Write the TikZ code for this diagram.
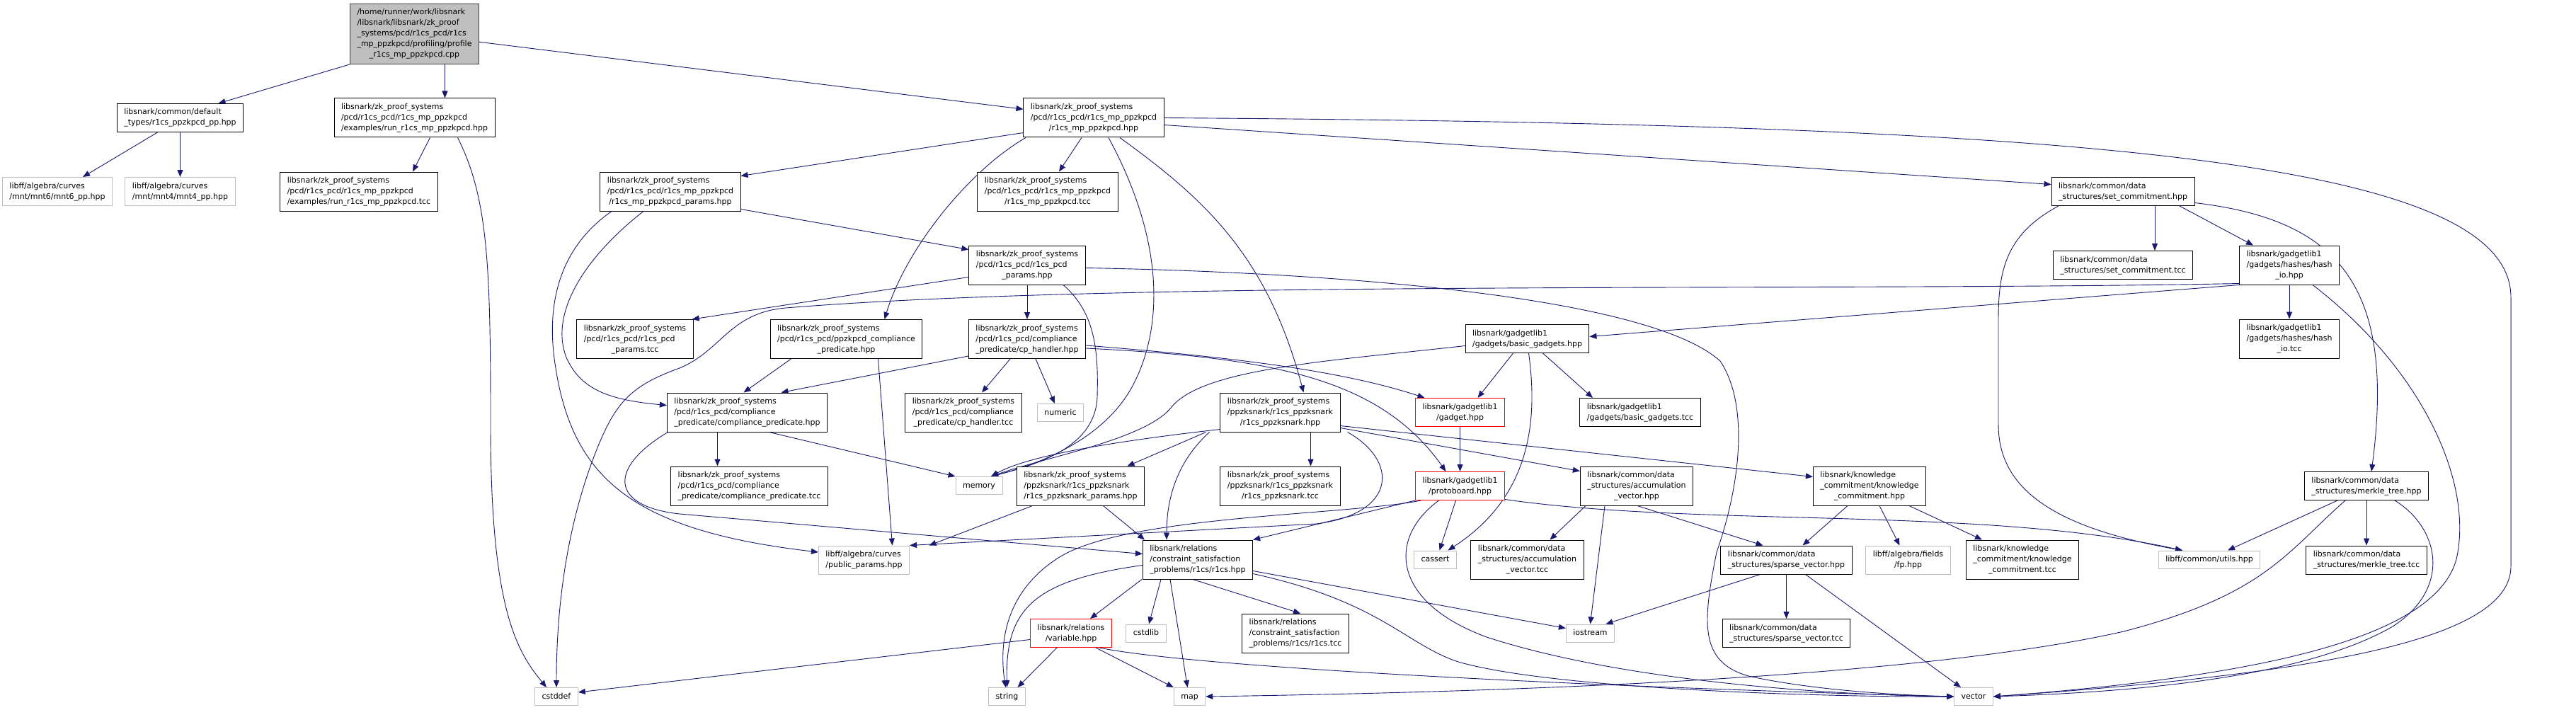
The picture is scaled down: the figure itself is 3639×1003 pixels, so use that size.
\documentclass[tikz,border=0pt]{standalone}
\usepackage{fontspec}
\setmainfont{DejaVu Sans}
\usetikzlibrary{arrows.meta,backgrounds}
\definecolor{dxEdge}{HTML}{191970}
\definecolor{dxGray}{HTML}{BFBFBF}
\definecolor{dxDark}{HTML}{404040}
\newcommand{\fpath}[2]{\begin{tabular}{@{}l@{}}#1\\\multicolumn{1}{@{}c@{}}{#2}\end{tabular}}
\newcommand{\fsys}[1]{\begin{tabular}{@{}c@{}}#1\end{tabular}}

\begin{document}
\begin{tikzpicture}[x=1pt,y=-1pt,
  file/.style={draw=black, fill=white, line width=1pt, inner xsep=10pt, inner ysep=5pt,
    font=\fontsize{11}{15}\selectfont},
  sysfile/.style={file, draw=dxGray},
  cutfile/.style={file, draw=red},
  rootfile/.style={file, draw=dxDark, fill=dxGray},
  dep/.style={draw=dxEdge, line width=0.9pt, -{Triangle[length=10pt,width=8pt]}}]
  \useasboundingbox (0,0) rectangle (3639,1003);

  \node[rootfile] (root) at (585.5,48)
    {\fpath{/home/runner/work/libsnark\\/libsnark/libsnark/zk\_proof\\\_systems/pcd/r1cs\_pcd/r1cs\\\_mp\_ppzkpcd/profiling/profile}{\_r1cs\_mp\_ppzkpcd.cpp}};

  \node[file] (deftypes) at (254.5,166.5) {\fpath{libsnark/common/default}{\_types/r1cs\_ppzkpcd\_pp.hpp}};
  \node[file] (runhpp) at (585.5,166.5) {\fpath{libsnark/zk\_proof\_systems\\/pcd/r1cs\_pcd/r1cs\_mp\_ppzkpcd}{/examples/run\_r1cs\_mp\_ppzkpcd.hpp}};
  \node[file] (mphpp) at (1545,166.5) {\fpath{libsnark/zk\_proof\_systems\\/pcd/r1cs\_pcd/r1cs\_mp\_ppzkpcd}{/r1cs\_mp\_ppzkpcd.hpp}};

  \node[sysfile] (mnt6) at (81,270.5) {\fpath{libff/algebra/curves}{/mnt/mnt6/mnt6\_pp.hpp}};
  \node[sysfile] (mnt4) at (254.5,270.5) {\fpath{libff/algebra/curves}{/mnt/mnt4/mnt4\_pp.hpp}};
  \node[file] (runtcc) at (507,270.5) {\fpath{libsnark/zk\_proof\_systems\\/pcd/r1cs\_pcd/r1cs\_mp\_ppzkpcd}{/examples/run\_r1cs\_mp\_ppzkpcd.tcc}};
  \node[file] (mpparams) at (947,270.5) {\fpath{libsnark/zk\_proof\_systems\\/pcd/r1cs\_pcd/r1cs\_mp\_ppzkpcd}{/r1cs\_mp\_ppzkpcd\_params.hpp}};
  \node[file] (mptcc) at (1480,270.5) {\fpath{libsnark/zk\_proof\_systems\\/pcd/r1cs\_pcd/r1cs\_mp\_ppzkpcd}{/r1cs\_mp\_ppzkpcd.tcc}};
  \node[file] (setcomm) at (2999,270.5) {\fpath{libsnark/common/data}{\_structures/set\_commitment.hpp}};

  \node[file] (pcdparams) at (1451,374.5) {\fpath{libsnark/zk\_proof\_systems\\/pcd/r1cs\_pcd/r1cs\_pcd}{\_params.hpp}};
  \node[file] (setcommtcc) at (2999,374.5) {\fpath{libsnark/common/data}{\_structures/set\_commitment.tcc}};
  \node[file] (hashio) at (3234,374.5) {\fpath{libsnark/gadgetlib1\\/gadgets/hashes/hash}{\_io.hpp}};

  \node[file] (pcdparamstcc) at (897,479) {\fpath{libsnark/zk\_proof\_systems\\/pcd/r1cs\_pcd/r1cs\_pcd}{\_params.tcc}};
  \node[file] (ppzkcp) at (1195.5,479) {\fpath{libsnark/zk\_proof\_systems\\/pcd/r1cs\_pcd/ppzkpcd\_compliance}{\_predicate.hpp}};
  \node[file] (cphandler) at (1451,479) {\fpath{libsnark/zk\_proof\_systems\\/pcd/r1cs\_pcd/compliance}{\_predicate/cp\_handler.hpp}};
  \node[file] (basicgadgets) at (2157.5,478.5) {\fpath{libsnark/gadgetlib1}{/gadgets/basic\_gadgets.hpp}};
  \node[file] (hashiotcc) at (3234,478.5) {\fpath{libsnark/gadgetlib1\\/gadgets/hashes/hash}{\_io.tcc}};

  \node[file] (cphpp) at (1055.5,582.5) {\fpath{libsnark/zk\_proof\_systems\\/pcd/r1cs\_pcd/compliance}{\_predicate/compliance\_predicate.hpp}};
  \node[file] (cphtcc) at (1361,582.5) {\fpath{libsnark/zk\_proof\_systems\\/pcd/r1cs\_pcd/compliance}{\_predicate/cp\_handler.tcc}};
  \node[sysfile] (numeric) at (1498,583) {\fsys{numeric}};
  \node[file] (snarkhpp) at (1808.5,582.5) {\fpath{libsnark/zk\_proof\_systems\\/ppzksnark/r1cs\_ppzksnark}{/r1cs\_ppzksnark.hpp}};
  \node[cutfile] (gadget) at (2062.5,582.5) {\fpath{libsnark/gadgetlib1}{/gadget.hpp}};
  \node[file] (basictcc) at (2317,582.5) {\fpath{libsnark/gadgetlib1}{/gadgets/basic\_gadgets.tcc}};

  \node[file] (cptcc) at (1058.5,686.5) {\fpath{libsnark/zk\_proof\_systems\\/pcd/r1cs\_pcd/compliance}{\_predicate/compliance\_predicate.tcc}};
  \node[sysfile] (memory) at (1383,686) {\fsys{memory}};
  \node[file] (snarkparams) at (1526.5,686.5) {\fpath{libsnark/zk\_proof\_systems\\/ppzksnark/r1cs\_ppzksnark}{/r1cs\_ppzksnark\_params.hpp}};
  \node[file] (snarktcc) at (1808.5,686.5) {\fpath{libsnark/zk\_proof\_systems\\/ppzksnark/r1cs\_ppzksnark}{/r1cs\_ppzksnark.tcc}};
  \node[cutfile] (protoboard) at (2062.5,686.5) {\fpath{libsnark/gadgetlib1}{/protoboard.hpp}};
  \node[file] (accvec) at (2312,686.5) {\fpath{libsnark/common/data\\\_structures/accumulation}{\_vector.hpp}};
  \node[file] (kchpp) at (2641,686.5) {\fpath{libsnark/knowledge\\\_commitment/knowledge}{\_commitment.hpp}};
  \node[file] (merkle) at (3343,686.5) {\fpath{libsnark/common/data}{\_structures/merkle\_tree.hpp}};

  \node[sysfile] (publicparams) at (1220.5,791) {\fpath{libff/algebra/curves}{/public\_params.hpp}};
  \node[file] (r1cshpp) at (1692,790.5) {\fpath{libsnark/relations\\/constraint\_satisfaction}{\_problems/r1cs/r1cs.hpp}};
  \node[sysfile] (cassert) at (2027.5,790.5) {\fsys{cassert}};
  \node[file] (accvectcc) at (2157.5,790.5) {\fpath{libsnark/common/data\\\_structures/accumulation}{\_vector.tcc}};
  \node[file] (sparse) at (2523.5,791) {\fpath{libsnark/common/data}{\_structures/sparse\_vector.hpp}};
  \node[sysfile] (fp) at (2695.5,791) {\fpath{libff/algebra/fields}{/fp.hpp}};
  \node[file] (kctcc) at (2857,790.5) {\fpath{libsnark/knowledge\\\_commitment/knowledge}{\_commitment.tcc}};
  \node[sysfile] (utils) at (3121,790.5) {\fsys{libff/common/utils.hpp}};
  \node[file] (merkletcc) at (3343,791) {\fpath{libsnark/common/data}{\_structures/merkle\_tree.tcc}};

  \node[cutfile] (variable) at (1513,894.5) {\fpath{libsnark/relations}{/variable.hpp}};
  \node[sysfile] (cstdlib) at (1619,894.5) {\fsys{cstdlib}};
  \node[file] (r1cstcc) at (1830,894.5) {\fpath{libsnark/relations\\/constraint\_satisfaction}{\_problems/r1cs/r1cs.tcc}};
  \node[sysfile] (iostream) at (2246.5,894.5) {\fsys{iostream}};
  \node[file] (sparsetcc) at (2523.5,894.5) {\fpath{libsnark/common/data}{\_structures/sparse\_vector.tcc}};

  \node[sysfile] (cstddef) at (786,984) {\fsys{cstddef}};
  \node[sysfile] (string) at (1422.5,984) {\fsys{string}};
  \node[sysfile] (map) at (1680.5,984) {\fsys{map}};
  \node[sysfile] (vector) at (2788,984) {\fsys{vector}};

  \begin{scope}[on background layer]
  \draw[dep] (root.south west) -- ([xshift=54]deftypes.north);
  \draw[dep] ([xshift=43]root.south) -- ([xshift=43]runhpp.north);
  \draw[dep] (root) -- (mphpp);
  \draw[dep] ([xshift=-32]deftypes.south) -- ([xshift=36]mnt6.north);
  \draw[dep] (deftypes) -- (mnt4);
  \draw[dep] ([xshift=22]runhpp.south) -- ([xshift=76]runtcc.north);
  \draw[dep] ([xshift=61]runhpp.south) .. controls (690,280) and (693,380) .. (693,600)
    .. controls (693,860) and (730,920) .. ([xshift=-14]cstddef.north);

  \draw[dep] ([yshift=-21]mphpp.west) -- ([yshift=22]mpparams.east);
  \draw[dep] ([xshift=-17]mphpp.south) -- ([xshift=16]mptcc.north);
  \draw[dep] ([yshift=-10]mphpp.east) -- ([yshift=10]setcomm.west);
  \draw[dep] (mphpp.east) .. controls (2900,175) and (3547,220) .. (3547,420) -- (3547,800)
    .. controls (3547,900) and (3300,950) .. (vector.east);
  \draw[dep] ([xshift=-96]mphpp.south) .. controls (1370,240) and (1280,350) .. ([xshift=54]ppzkcp.north);
  \draw[dep] ([xshift=21]mphpp.south) .. controls (1650,350) and (1640,470) .. (1600,545)
    .. controls (1560,620) and (1470,655) .. ([xshift=17]memory.north);
  \draw[dep] ([xshift=37]mphpp.south) .. controls (1700,280) and (1790,360) .. ([xshift=33]snarkhpp.north);

  \draw[dep] ([yshift=-25]mpparams.east) -- ([yshift=22]pcdparams.west);
  \draw[dep] ([xshift=-38]mpparams.south) .. controls (830,360) and (775,440) .. (800,505)
    .. controls (820,550) and (860,565) .. ([yshift=10]cphpp.west);
  \draw[dep] ([xshift=-83]mpparams.south) .. controls (790,350) and (770,430) .. (785,520)
    .. controls (810,680) and (900,750) .. ([yshift=11]publicparams.west);

  \draw[dep] ([yshift=-17]pcdparams.west) -- ([xshift=-2]pcdparamstcc.north east);
  \draw[dep] (pcdparams) -- (cphandler);
  \draw[dep] ([xshift=51]pcdparams.south) .. controls (1545,440) and (1552,490) .. (1550,560)
    .. controls (1548,630) and (1470,655) .. ([xshift=17]memory.north);
  \draw[dep] ([yshift=-4]pcdparams.east) .. controls (1900,385) and (2330,420) .. (2430,510)
    .. controls (2470,570) and (2460,680) .. (2425,780)
    .. controls (2405,880) and (2400,935) .. (2470,955)
    .. controls (2560,975) and (2680,982) .. (vector.west);

  \draw[dep] ([xshift=-78]ppzkcp.south) -- ([xshift=-5]cphpp.north);
  \draw[dep] ([xshift=45]ppzkcp.south) -- ([xshift=40]publicparams.north);

  \draw[dep] ([yshift=-24]cphandler.west) -- ([xshift=48]cphpp.north);
  \draw[dep] ([xshift=-24]cphandler.south) -- ([xshift=26]cphtcc.north);
  \draw[dep] ([xshift=12]cphandler.south) -- ([xshift=-8]numeric.north);
  \draw[dep] ([yshift=-9]cphandler.east) .. controls (1750,505) and (1900,525) .. ([xshift=-50]gadget.north);
  \draw[dep] ([yshift=-13]cphandler.east) .. controls (1800,505) and (1950,535) .. ([xshift=-20]protoboard.north);

  \draw[dep] ([xshift=-42]cphpp.south) -- ([xshift=-45]cptcc.north);
  \draw[dep] ([xshift=31]cphpp.south) -- (memory.north west);
  \draw[dep] ([xshift=-112]cphpp.south) .. controls (860,660) and (860,715) .. (960,726)
    -- ([yshift=8]r1cshpp.west);

  \draw[dep] ([xshift=-105]snarkhpp.south) -- ([xshift=66]snarkparams.north);
  \draw[dep] ([xshift=43]snarkhpp.south) -- ([xshift=43]snarktcc.north);
  \draw[dep] ([yshift=-24]snarkhpp.west) .. controls (1560,625) and (1450,645) .. ([xshift=17]memory.north);
  \draw[dep] ([xshift=-100]snarkhpp.south) .. controls (1665,650) and (1648,700) .. ([xshift=-44]r1cshpp.north);
  \draw[dep] ([xshift=95]snarkhpp.south) .. controls (1975,650) and (1975,725) .. (1860,740)
    -- (publicparams.north east);
  \draw[dep] ([yshift=-22]snarkhpp.east) -- ([yshift=21]accvec.west);
  \draw[dep] ([yshift=-19]snarkhpp.east) -- ([yshift=13]kchpp.west);

  \draw[dep] ([xshift=-68]snarkparams.south) -- ([xshift=92]publicparams.north);
  \draw[dep] ([xshift=32]snarkparams.south) -- ([xshift=-75]r1cshpp.north);

  \draw[dep] ([xshift=45]setcomm.south) -- ([xshift=45]setcommtcc.north);
  \draw[dep] ([xshift=80]setcomm.south) -- ([xshift=-51]hashio.north);
  \draw[dep] ([xshift=-91]setcomm.south) .. controls (2835,330) and (2823,380) .. (2823,450) -- (2823,600)
    .. controls (2823,690) and (2900,745) .. ([xshift=-38]utils.north);
  \draw[dep] ([yshift=-16]setcomm.east) .. controls (3300,310) and (3385,400) .. ([xshift=7]merkle.north);

  \draw[dep] (hashio) -- (hashiotcc);
  \draw[dep] (hashio.south west) -- ([yshift=3]basicgadgets.east);
  \draw[dep] ([yshift=-26]hashio.west) .. controls (2600,412) and (1600,395) .. (1110,435)
    .. controls (1030,442) and (1020,495) .. (960,520)
    .. controls (890,545) and (870,570) .. (845,630)
    .. controls (800,740) and (786,860) .. (cstddef.north);
  \draw[dep] ([xshift=33]hashio.south) .. controls (3420,520) and (3495,680) .. (3470,790)
    .. controls (3440,900) and (3200,955) .. (vector.east);

  \draw[dep] ([xshift=-20]basicgadgets.south) -- ([xshift=25]gadget.north);
  \draw[dep] ([xshift=22]basicgadgets.south) -- ([xshift=-67]basictcc.north);
  \draw[dep] ([yshift=-10]basicgadgets.west) .. controls (1880,510) and (1700,520) .. (1655,575)
    .. controls (1620,620) and (1480,645) .. ([xshift=17]memory.north);
  \draw[dep] ([xshift=2]basicgadgets.south) .. controls (2172,590) and (2165,700) .. ([xshift=18]cassert.north);

  \draw[dep] (gadget) -- (protoboard);
  \draw[dep] ([xshift=-6]protoboard.south) -- ([xshift=6]cassert.north);
  \draw[dep] (protoboard.south west) -- (r1cshpp.north east);
  \draw[dep] ([xshift=-55]protoboard.south) .. controls (1900,728) and (1600,728) .. (1500,785)
    .. controls (1425,830) and (1410,900) .. ([xshift=-2]string.north);
  \draw[dep] ([xshift=-30]protoboard.south) .. controls (1960,760) and (1965,850) .. (2100,900)
    .. controls (2300,965) and (2600,982) .. (vector.west);
  \draw[dep] ([yshift=-19]protoboard.east) .. controls (2400,745) and (2800,715) .. ([xshift=-38]utils.north);

  \draw[dep] ([xshift=-79]r1cshpp.south) -- ([xshift=27]variable.north);
  \draw[dep] ([xshift=-52]r1cshpp.south) -- ([xshift=4]cstdlib.north);
  \draw[dep] ([xshift=-39]r1cshpp.south) -- ([xshift=-3]map.north);
  \draw[dep] ([xshift=-7]r1cshpp.south) -- ([xshift=7]r1cstcc.north);
  \draw[dep] ([yshift=-8]r1cshpp.west) .. controls (1460,820) and (1420,860) .. (string.north);
  \draw[dep] ([yshift=-16]r1cshpp.east) -- ([yshift=7]iostream.west);
  \draw[dep] ([yshift=-20]r1cshpp.east) .. controls (1950,850) and (1985,910) .. (2060,935)
    .. controls (2200,975) and (2600,985) .. (vector.west);

  \draw[dep] ([xshift=-20]variable.south) -- ([xshift=15]string.north);
  \draw[dep] ([xshift=35]variable.south) -- (map.north west);
  \draw[dep] ([yshift=-9]variable.west) -- ([yshift=6]cstddef.east);
  \draw[dep] ([xshift=40]variable.south) .. controls (1700,945) and (2300,972) .. (vector.west);

  \draw[dep] ([xshift=-72]accvec.south) -- ([xshift=32]accvectcc.north);
  \draw[dep] ([xshift=-45]accvec.south) -- (iostream.north);
  \draw[dep] ([xshift=1]accvec.south) -- ([xshift=-33]sparse.north);

  \draw[dep] ([xshift=-31]kchpp.south) -- ([xshift=23]sparse.north);
  \draw[dep] ([xshift=14]kchpp.south) -- ([xshift=-12]fp.north);
  \draw[dep] ([xshift=56]kchpp.south) -- ([xshift=-57]kctcc.north);

  \draw[dep] (sparse) -- (sparsetcc);
  \draw[dep] ([xshift=27]sparse.south) -- ([xshift=-18]vector.north);
  \draw[dep] ([xshift=-37]sparse.south) -- ([xshift=22]iostream.north);

  \draw[dep] ([xshift=-41]merkle.south) -- ([xshift=26]utils.north);
  \draw[dep] (merkle) -- (merkletcc);
  \draw[dep] ([xshift=-30]merkle.south) .. controls (3230,780) and (3200,840) .. (3000,892)
    .. controls (2700,960) and (2100,978) .. (map.east);
  \draw[dep] ([xshift=40]merkle.south) .. controls (3445,745) and (3465,830) .. (3380,885)
    .. controls (3250,960) and (3000,978) .. (vector.east);
  \end{scope}
\end{tikzpicture}
\end{document}
